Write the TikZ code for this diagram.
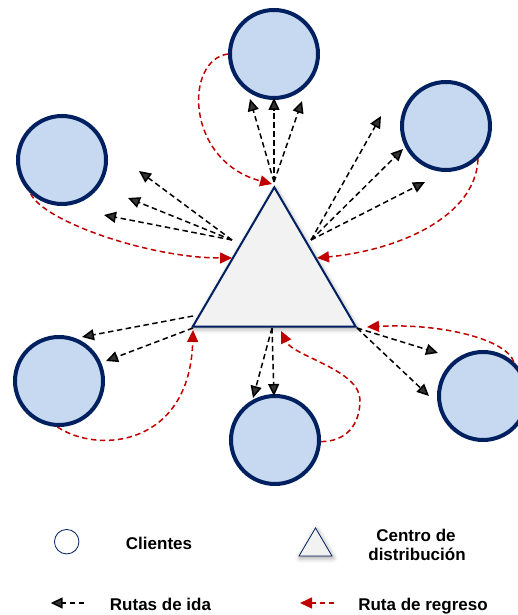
\documentclass[tikz,border=0pt]{standalone}
\usepackage{fontspec}
\setmainfont{Liberation Sans}
\usepackage{tikz}
\usetikzlibrary{arrows.meta,shadows.blur}

\definecolor{navy}{HTML}{002060}
\definecolor{clientfill}{HTML}{C6D9F0}
\definecolor{routered}{HTML}{C00000}
\definecolor{dcfill}{HTML}{F2F2F2}

\begin{document}
\begin{tikzpicture}[x=1pt, y=1pt,
    client/.style={circle, draw=navy, fill=clientfill, line width=4pt, minimum size=88pt, inner sep=0pt},
    ida/.style={dash pattern=on 5.5pt off 3.5pt, line width=1.5pt, -{Triangle[length=12pt,width=11pt]}},
    regreso/.style={ida, routered},
    dcshadow/.style={blur shadow={shadow xshift=1pt, shadow yshift=-2pt, shadow blur radius=5pt, shadow opacity=40}},
    legendtext/.style={font=\bfseries\fontsize{17}{19.5}\selectfont, align=center, inner sep=0pt}]

                  \useasboundingbox (0,0) rectangle (518,615);

                  % centro de distribucion
                  \coordinate (v0) at (192.7,288.3);
                  \coordinate (v1) at (355.7,288.3);
                  \coordinate (v2) at (274.3,427.7);
                  \filldraw[fill=dcfill, draw=navy, line width=2pt, dcshadow] (v0) -- (v1) -- (v2) -- cycle;

                  % clientes
                  \node[client] (c1) at (274,561) {};
                  \node[client] (c2) at (62,455) {};
                  \node[client] (c3) at (446,489) {};
                  \node[client] (c4) at (59,234) {};
                  \node[client] (c5) at (275,175) {};
                  \node[client] (c6) at (483,219) {};

                  % salidas y puntas de las rutas de ida
                  \coordinate (o1) at (274,433);
                  \coordinate (a1) at (250,516);
                  \coordinate (a2) at (274,517);
                  \coordinate (a3) at (302,514);

                  \coordinate (o2) at (232,375);
                  \coordinate (b1) at (139,444);
                  \coordinate (b2) at (128,417);
                  \coordinate (b3) at (104,400);

                  \coordinate (o3) at (311,375);
                  \coordinate (d1) at (381,499);
                  \coordinate (d2) at (403,466);
                  \coordinate (d3) at (425,433);

                  \coordinate (o4) at (193,299);
                  \coordinate (o5) at (193,287);
                  \coordinate (e1) at (82,278);
                  \coordinate (e2) at (106,254);

                  \coordinate (o6) at (272,287);
                  \coordinate (f1) at (253,217);
                  \coordinate (f2) at (274,219);

                  \coordinate (o7) at (357,287);
                  \coordinate (g1) at (438,262);
                  \coordinate (g2) at (429,219);

                  % llegadas de las rutas de regreso
                  \coordinate (r1) at (272,431);
                  \coordinate (r2) at (232,357);
                  \coordinate (r3) at (317,357);
                  \coordinate (r4) at (193,285);
                  \coordinate (r5) at (281,284);
                  \coordinate (r6) at (367,288);

                  \foreach \t in {a1,a2,a3} \draw[ida] (o1) -- (\t);
                  \foreach \t in {b1,b2,b3} \draw[ida] (o2) -- (\t);
                  \foreach \t in {d1,d2,d3} \draw[ida] (o3) -- (\t);
                  \draw[ida] (o4) -- (e1);
                  \draw[ida] (o5) -- (e2);
                  \foreach \t in {f1,f2} \draw[ida] (o6) -- (\t);
                  \foreach \t in {g1,g2} \draw[ida] (o7) -- (\t);

                  \draw[regreso] (c1.west) .. controls +(-44,-6) and +(-87,23) .. (r1);
                  \draw[regreso] (c2.227) .. controls +(13,-28) and +(-82,0) .. (r2);
                  \draw[regreso] (c3.314) .. controls +(-2,-57) and +(83,8) .. (r3);
                  \draw[regreso] (c4.268) .. controls +(42,-28) and +(-3,-115) .. (r4);
                  \draw[regreso] (c5.358) .. controls +(25,0) and +(0,-25) .. (360,215)
                                          .. controls +(0,30) and +(12,-25) .. (r5);
                  \draw[regreso] (c6.48) .. controls +(-8,23) and +(73,4) .. (r6);

                  % leyenda
                  \node[circle, draw=navy, fill=white, line width=0.8pt, minimum size=24.5pt, inner sep=0pt] (lc) at (66.7,73.3) {};
                  \node[legendtext, anchor=base] (lcl) at (159,65) {Clientes};

                  \coordinate (w0) at (299,59);
                  \coordinate (w1) at (332,59);
                  \coordinate (w2) at (315.5,87);
                  \filldraw[fill=dcfill, draw=navy, line width=0.8pt, dcshadow] (w0) -- (w1) -- (w2) -- cycle;
                  \node[legendtext, anchor=base] (ldc1) at (416,73) {Centro de};
                  \node[legendtext, anchor=base] (ldc2) at (417,54) {distribución};

                  \coordinate (k0) at (84,12);
                  \coordinate (k1) at (50.7,12);
                  \draw[ida] (k0) -- (k1);
                  \node[legendtext, anchor=base] (lida) at (160.5,5) {Rutas de ida};

                  \coordinate (m0) at (334,12);
                  \coordinate (m1) at (300,12);
                  \draw[regreso] (m0) -- (m1);
                  \node[legendtext, anchor=base] (lreg) at (423,5) {Ruta de regreso};

                \end{tikzpicture}
\end{document}
